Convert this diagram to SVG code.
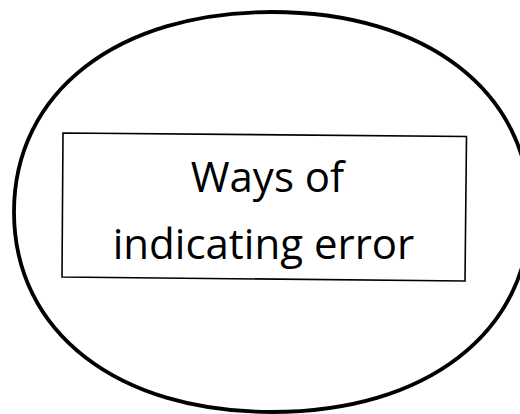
<svg xmlns="http://www.w3.org/2000/svg" width="520" height="414" viewBox="0 0 520 414">
<style>
.outer{fill:none;stroke:#000;stroke-width:3.8}
.box{fill:#fff;stroke:#000;stroke-width:1.6}
.lbl{font-family:"Open Sans","Noto Sans",sans-serif;font-size:42px;fill:#000;text-anchor:middle}
</style>
<rect width="520" height="414" fill="#fff"/>
<g id="outer-shape">
<path class="outer" d="M272,12 C426.8,12 530,92 530,212 C530,332 426.8,412 272,412 C117.2,412 14,332 14,212 C14,92 117.2,12 272,12 Z"/>
</g>
<g id="main-box">
<polygon class="box" points="63,133 466.5,136.5 465,281 62,277"/>
<text class="lbl" x="267.5" y="192">Ways of</text>
<text class="lbl" x="263.5" y="259">indicating error</text>
</g>
<g id="connectors"/>
</svg>
